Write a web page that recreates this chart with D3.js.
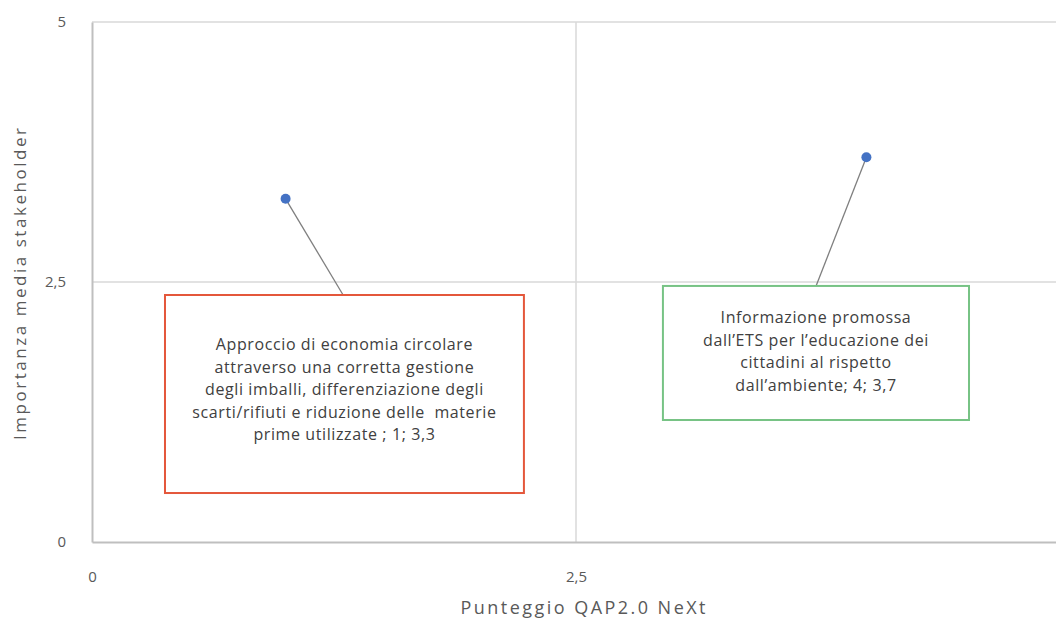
<!DOCTYPE html>
<html>
<head>
<meta charset="utf-8">
<script src="https://cdn.jsdelivr.net/npm/d3@7"></script>
<style>
  html, body { margin: 0; padding: 0; background: #fff; }
  svg { display: block; }
  text { font-family: "Open Sans", Lato, sans-serif; }
</style>
</head>
<body>
<svg id="chart" width="1056" height="620"></svg>
<script>
// ---- Data ----
const pointNames = [
  "Approccio di economia circolare attraverso una corretta gestione degli imballi, differenziazione degli scarti/rifiuti e riduzione delle materie prime utilizzate",
  "Informazione promossa dall'ETS per l'educazione dei cittadini al rispetto dell'ambiente"
];
const xValues = [1, 4];
const yValues = [3.3, 3.7];
const labelLines = [
  ["Approccio di economia circolare", "attraverso una corretta gestione", "degli imballi, differenziazione degli", "scarti/rifiuti e riduzione delle  materie", "prime utilizzate ; 1; 3,3"],
  ["Informazione promossa", "dall\u2019ETS per l\u2019educazione dei", "cittadini al rispetto", "dall\u2019ambiente; 4; 3,7"]
];
const xTicks = [0, 2.5, 5];
const yTicks = [0, 2.5, 5];
const xTitle = "Punteggio QAP2.0 NeXt";
const yTitle = "Importanza media stakeholder";

// ---- Layout ----
const svg = d3.select("#chart");
const plotLeft = 92, plotTop = 22, plotBottom = 542, xMaxPx = 1060;
const x = d3.scaleLinear().domain([0, 5]).range([plotLeft, xMaxPx]);
const y = d3.scaleLinear().domain([0, 5]).range([plotBottom, plotTop]);
const fmt = d => String(d).replace(".", ",");

// gridlines
svg.append("g").selectAll("line").data(yTicks.filter(d => d > 0)).join("line")
  .attr("x1", plotLeft).attr("x2", 1056).attr("y1", d => y(d)).attr("y2", d => y(d))
  .attr("stroke", "#d9d9d9").attr("stroke-width", 1.5);
svg.append("g").selectAll("line").data(xTicks.filter(d => d > 0)).join("line")
  .attr("x1", d => x(d)).attr("x2", d => x(d)).attr("y1", plotTop).attr("y2", plotBottom)
  .attr("stroke", "#d9d9d9").attr("stroke-width", 1.5);

// axes
const xAxis = d3.axisBottom(x).tickValues(xTicks).tickFormat(fmt).tickSize(0).tickPadding(40);
const yAxis = d3.axisLeft(y).tickValues(yTicks).tickFormat(fmt).tickSize(0).tickPadding(26);
const gx = svg.append("g").attr("transform", `translate(0,${plotBottom})`).call(xAxis);
const gy = svg.append("g").attr("transform", `translate(${plotLeft},0)`).call(yAxis);
[gx, gy].forEach(g => {
  g.select(".domain").attr("stroke", "#bfbfbf").attr("stroke-width", 2);
  g.selectAll("text").attr("fill", "#595959").style("font-size", "15px")
    .style("font-family", "'Open Sans', sans-serif");
});
gx.selectAll(".tick text").attr("dy", "0");

// axis titles
svg.append("text").attr("x", x(2.5) + 7).attr("y", 614).attr("text-anchor", "middle")
  .attr("fill", "#595959").style("font-size", "18px")
  .attr("textLength", 245).attr("lengthAdjust", "spacing").text(xTitle);
svg.append("text").attr("transform", `translate(26,${y(2.5) + 2}) rotate(-90)`)
  .attr("text-anchor", "middle").attr("fill", "#595959").style("font-size", "17px")
  .attr("textLength", 312).attr("lengthAdjust", "spacing").text(yTitle);

// label boxes (in data coordinates)
const boxes = [
  { x0: 0.377, x1: 2.231, y0: 2.375, y1: 0.471, anchorX: 1.297, color: "#e4573b", textShift: -5 },
  { x0: 2.949, x1: 4.530, y0: 2.462, y1: 1.173, anchorX: 3.74, color: "#77c385", textShift: -2 }
];

const pts = xValues.map((v, i) => ({ x: v, y: yValues[i], name: pointNames[i], lines: labelLines[i], box: boxes[i] }));

// leader lines
svg.append("g").selectAll("line").data(pts).join("line")
  .attr("x1", d => x(d.x)).attr("y1", d => y(d.y))
  .attr("x2", d => x(d.box.anchorX)).attr("y2", d => y(d.box.y0))
  .attr("stroke", "#7f7f7f").attr("stroke-width", 1.3);

// boxes
const bg = svg.append("g").selectAll("g").data(pts).join("g");
bg.append("rect")
  .attr("x", d => x(d.box.x0)).attr("y", d => y(d.box.y0))
  .attr("width", d => x(d.box.x1) - x(d.box.x0))
  .attr("height", d => y(d.box.y1) - y(d.box.y0))
  .attr("fill", "#fff").attr("stroke", d => d.box.color).attr("stroke-width", 2);
bg.each(function(d) {
  const cx = (x(d.box.x0) + x(d.box.x1)) / 2;
  const cy = (y(d.box.y0) + y(d.box.y1)) / 2;
  const lh = 22.5;
  const n = d.lines.length;
  const t = d3.select(this).append("text").attr("text-anchor", "middle")
    .attr("fill", "#404040").style("font-size", "16px").style("letter-spacing", "0.6px")
    .style("white-space", "pre");
  d.lines.forEach((ln, i) => {
    t.append("tspan").attr("x", cx).attr("y", cy - (n - 1) * lh / 2 + i * lh + 6 + d.box.textShift).text(ln);
  });
});

// points
svg.append("g").selectAll("circle").data(pts).join("circle")
  .attr("cx", d => x(d.x)).attr("cy", d => y(d.y)).attr("r", 5)
  .attr("fill", "#4472c4");
</script>
</body>
</html>
